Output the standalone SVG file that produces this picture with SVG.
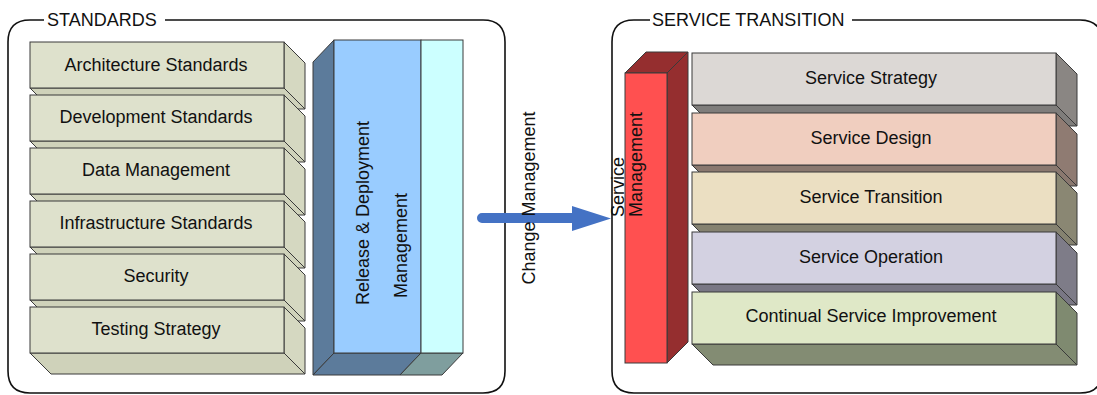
<svg xmlns="http://www.w3.org/2000/svg" width="1097" height="395" viewBox="0 0 1097 395">
  <style>
    text { font-family: "Liberation Sans", Arial, sans-serif; font-size: 18px; fill: #111; }
    .mid { text-anchor: middle; }
    .frame { fill: none; stroke: #111; stroke-width: 1.6; }
    .edge { stroke: #3a3a3a; stroke-width: 1; }
    .std-front { fill: #dee1cc; }
    .std-side { fill: #d5d8c1; }
    .std-bottom { fill: #cfd2ba; }
  </style>

  <!-- container frames -->
  <g id="standards-frame">
    <path class="frame" d="M44 20 H30 Q8 20 8 42 V371 Q8 393 30 393 H483 Q505 393 505 371 V42 Q505 20 483 20 H165"/>
    <text x="47" y="26">STANDARDS</text>
  </g>
  <g id="service-transition-frame">
    <path class="frame" d="M650 20 H634 Q612 20 612 42 V371 Q612 393 634 393 H1080 Q1102 393 1102 371 V42 Q1102 20 1080 20 H852"/>
    <text x="652" y="26">SERVICE TRANSITION</text>
  </g>

  <!-- standards stack -->
  <g id="architecture-standards">
    <polygon class="std-side edge" points="284,42 305,63 305,109 284,88"/>
    <polygon class="std-bottom edge" points="30,88 284,88 305,109 51,109"/>
    <rect class="std-front edge" x="30" y="42" width="254" height="46"/>
    <text class="mid" x="156" y="70.5">Architecture Standards</text>
  </g>
  <g id="development-standards">
    <polygon class="std-side edge" points="284,95 305,116 305,162 284,141"/>
    <polygon class="std-bottom edge" points="30,141 284,141 305,162 51,162"/>
    <rect class="std-front edge" x="30" y="95" width="254" height="46"/>
    <text class="mid" x="156" y="123">Development Standards</text>
  </g>
  <g id="data-management">
    <polygon class="std-side edge" points="284,148 305,169 305,215 284,194"/>
    <polygon class="std-bottom edge" points="30,194 284,194 305,215 51,215"/>
    <rect class="std-front edge" x="30" y="148" width="254" height="46"/>
    <text class="mid" x="156" y="176">Data Management</text>
  </g>
  <g id="infrastructure-standards">
    <polygon class="std-side edge" points="284,201 305,222 305,268 284,247"/>
    <polygon class="std-bottom edge" points="30,247 284,247 305,268 51,268"/>
    <rect class="std-front edge" x="30" y="201" width="254" height="46"/>
    <text class="mid" x="156" y="228.5">Infrastructure Standards</text>
  </g>
  <g id="security">
    <polygon class="std-side edge" points="284,254 305,275 305,321 284,300"/>
    <polygon class="std-bottom edge" points="30,300 284,300 305,321 51,321"/>
    <rect class="std-front edge" x="30" y="254" width="254" height="46"/>
    <text class="mid" x="156" y="281.5">Security</text>
  </g>
  <g id="testing-strategy">
    <polygon class="std-side edge" points="284,307 305,328 305,374 284,353"/>
    <polygon class="std-bottom edge" points="30,353 284,353 305,374 51,374"/>
    <rect class="std-front edge" x="30" y="307" width="254" height="46"/>
    <text class="mid" x="156" y="334.5">Testing Strategy</text>
  </g>

  <!-- release & deployment column -->
  <g id="release-deployment">
    <polygon class="edge" fill="#5c7b9b" points="313,62 334,40 334,353 313,375"/>
    <polygon class="edge" fill="#5c7b9b" points="313,375 334,353 421,353 400,375"/>
    <rect class="edge" fill="#99ccff" x="334" y="40" width="87" height="313"/>
    <text transform="translate(369,305) rotate(-90)">Release &amp; Deployment</text>
    <text transform="translate(407,298) rotate(-90)">Management</text>
  </g>
  <g id="release-deployment-extension">
    <polygon class="edge" fill="#7f9e9e" points="400,375 421,353 463,353 442,375"/>
    <rect class="edge" fill="#ccffff" x="421" y="40" width="42" height="313"/>
  </g>

  <!-- service management column -->
  <g id="service-management">
    <polygon class="edge" fill="#952e2f" points="667,73 688,52 688,342 667,363"/>
    <polygon class="edge" fill="#952e2f" points="625,73 646,52 688,52 667,73"/>
    <rect class="edge" fill="#ff5050" x="625" y="73" width="42" height="290"/>
    <text transform="translate(624,217) rotate(-90)">Service</text>
    <text transform="translate(642,217) rotate(-90)">Management</text>
  </g>

  <!-- service lifecycle stack -->
  <g id="service-strategy">
    <polygon class="edge" fill="#8a8683" points="1056,53 1077,74 1077,126 1056,105"/>
    <polygon class="edge" fill="#7f7d7b" points="692,105 1056,105 1077,126 713,126"/>
    <rect class="edge" fill="#dcd8d5" x="692" y="53" width="364" height="52"/>
    <text class="mid" x="871" y="83.5">Service Strategy</text>
  </g>
  <g id="service-design">
    <polygon class="edge" fill="#8f7b72" points="1056,113 1077,134 1077,186 1056,165"/>
    <polygon class="edge" fill="#8a786f" points="692,165 1056,165 1077,186 713,186"/>
    <rect class="edge" fill="#f0cebf" x="692" y="113" width="364" height="52"/>
    <text class="mid" x="871" y="143.5">Service Design</text>
  </g>
  <g id="service-transition">
    <polygon class="edge" fill="#8a8773" points="1056,172 1077,193 1077,245 1056,224"/>
    <polygon class="edge" fill="#858270" points="692,224 1056,224 1077,245 713,245"/>
    <rect class="edge" fill="#ebdfc2" x="692" y="172" width="364" height="52"/>
    <text class="mid" x="871" y="202.5">Service Transition</text>
  </g>
  <g id="service-operation">
    <polygon class="edge" fill="#7e7c88" points="1056,232 1077,253 1077,305 1056,284"/>
    <polygon class="edge" fill="#797784" points="692,284 1056,284 1077,305 713,305"/>
    <rect class="edge" fill="#d3d1e1" x="692" y="232" width="364" height="52"/>
    <text class="mid" x="871" y="262.5">Service Operation</text>
  </g>
  <g id="continual-service-improvement">
    <polygon class="edge" fill="#7f8a70" points="1056,292 1077,313 1077,365 1056,344"/>
    <polygon class="edge" fill="#838c73" points="692,344 1056,344 1077,365 713,365"/>
    <rect class="edge" fill="#dfe8c7" x="692" y="292" width="364" height="52"/>
    <text class="mid" x="871" y="322">Continual Service Improvement</text>
  </g>

  <!-- connector: change management flow -->
  <g id="connectors">
    <path fill="#4472c4" d="M482 213 H572 V206 L611 218.5 L572 231 V223 H482 A5 5 0 0 1 482 213 Z"/>
    <text class="mid" transform="translate(535,198) rotate(-90)">Change Management</text>
  </g>
</svg>
